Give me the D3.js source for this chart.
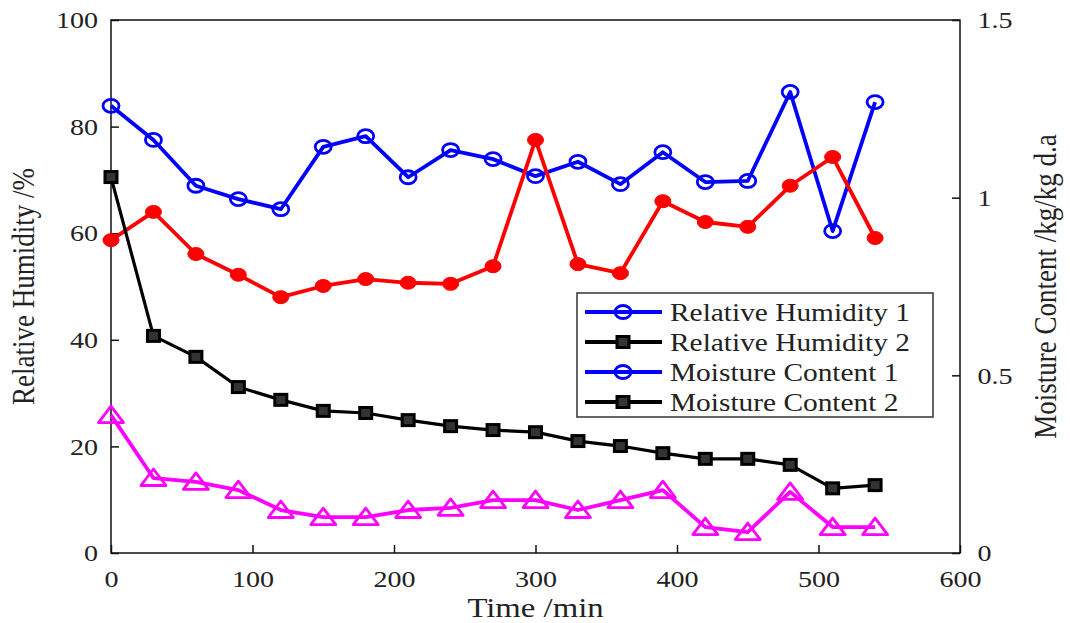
<!DOCTYPE html>
<html>
<head>
  <meta charset="utf-8">
  <title>Relative humidity and moisture content vs time</title>
  <script src="https://cdn.jsdelivr.net/npm/d3@7"></script>
  <style>
    body { margin: 0; background: #fff; }
    text { font-family: "Liberation Serif", "Times New Roman", serif; fill: #222; }
  </style>
</head>
<body>
<div id="chart"></div>
<script>
// time points (min)
var time = [0, 30, 60, 90, 120, 150, 180, 210, 240, 270, 300, 330, 360, 390, 420, 450, 480, 510, 540];

// left axis, %
var rh1 = [83.9, 77.5, 68.9, 66.4, 64.5, 76.2, 78.2, 70.5, 75.6, 73.9, 70.7, 73.4, 69.2, 75.2, 69.6, 69.8, 86.5, 60.4, 84.6];
var rh2 = [58.7, 64.0, 56.1, 52.2, 48.0, 50.1, 51.4, 50.7, 50.5, 53.8, 77.5, 54.2, 52.5, 66.0, 62.1, 61.2, 68.9, 74.3, 59.1];

// right axis, kg/kg d.a
var mc1 = [1.058, 0.611, 0.552, 0.467, 0.431, 0.400, 0.394, 0.374, 0.357, 0.346, 0.340, 0.315, 0.301, 0.281, 0.265, 0.265, 0.248, 0.182, 0.191];
var mc2 = [0.388, 0.211, 0.200, 0.177, 0.121, 0.101, 0.101, 0.121, 0.127, 0.149, 0.149, 0.121, 0.149, 0.177, 0.073, 0.059, 0.172, 0.073, 0.073];

var xTicks = [0, 100, 200, 300, 400, 500, 600];
var yLeftTicks = [0, 20, 40, 60, 80, 100];
var yRightTicks = [0, 0.5, 1, 1.5];

var legendLabels = ["Relative Humidity 1", "Relative Humidity 2", "Moisture Content 1", "Moisture Content 2"];

var W = 1070, H = 623;
var pL = 111, pR = 960, pT = 20, pB = 553;
var SX = 1.17; // the figure is a bit stretched sideways

var svg = d3.select("#chart").append("svg")
  .attr("width", W).attr("height", H);

var x = d3.scaleLinear().domain([0, 600]).range([pL, pR]);
var yL = d3.scaleLinear().domain([0, 100]).range([pB, pT]);
var yR = d3.scaleLinear().domain([0, 1.5]).range([pB, pT]);

// box
svg.append("rect")
  .attr("x", pL).attr("y", pT)
  .attr("width", pR - pL).attr("height", pB - pT)
  .attr("fill", "none").attr("stroke", "#111").attr("stroke-width", 1.5);

function styleAxis(g, size) {
  g.select(".domain").remove();
  g.selectAll("line").attr("stroke", "#111").attr("stroke-width", 1.5);
  g.selectAll("text")
    .attr("font-size", size)
    .attr("font-family", "Liberation Serif, serif")
    .attr("fill", "#222")
    .attr("transform", "scale(" + SX + ",1)");
}

svg.append("g")
  .attr("transform", "translate(" + pL + ",0)")
  .call(d3.axisLeft(yL).tickValues(yLeftTicks).tickSizeInner(-8).tickSizeOuter(0).tickPadding(11))
  .call(styleAxis, 24);

svg.append("g")
  .attr("transform", "translate(" + pR + ",0)")
  .call(d3.axisRight(yR).tickValues(yRightTicks).tickFormat(d3.format("")).tickSizeInner(-8).tickSizeOuter(0).tickPadding(15))
  .call(styleAxis, 24);

svg.append("g")
  .attr("transform", "translate(0," + pB + ")")
  .call(d3.axisBottom(x).tickValues(xTicks).tickSizeInner(-8).tickSizeOuter(0).tickPadding(17))
  .call(styleAxis, 24);

// titles
function label(px, py, str, size, rot) {
  svg.append("text")
    .attr("transform", "translate(" + px + "," + py + ") scale(" + SX + ",1) rotate(" + rot + ")")
    .attr("text-anchor", "middle")
    .attr("font-size", size)
    .text(str);
}
label((pL + pR) / 2, 617, "Time /min", 28, 0);
label(34, (pT + pB) / 2, "Relative Humidity /%", 27, -90);
label(1056, (pT + pB) / 2, "Moisture Content /kg/kg d.a", 27, -90);

// series
var series = [
  { v: rh1, y: yL, color: "#0000ff", w: 3.8, marker: "circle" },
  { v: rh2, y: yL, color: "#ff0000", w: 3.8, marker: "dot" },
  { v: mc1, y: yR, color: "#000000", w: 3.2, marker: "square" },
  { v: mc2, y: yR, color: "#ff00ff", w: 3.8, marker: "triangle" }
];

function drawMarker(g, type, color) {
  if (type === "circle") {
    g.append("ellipse").attr("rx", 8).attr("ry", 6.5)
      .attr("fill", "none").attr("stroke", color).attr("stroke-width", 2.8);
  } else if (type === "dot") {
    g.append("ellipse").attr("rx", 8).attr("ry", 6.5)
      .attr("fill", color).attr("stroke", color).attr("stroke-width", 1);
  } else if (type === "square") {
    g.append("rect").attr("x", -6).attr("y", -5.5).attr("width", 12).attr("height", 11)
      .attr("fill", "#333").attr("stroke", color).attr("stroke-width", 3);
  } else {
    g.append("path").attr("d", "M0,-9L12.5,7.5L-12.5,7.5Z")
      .attr("fill", "none").attr("stroke", color).attr("stroke-width", 2.8)
      .attr("stroke-linejoin", "round");
  }
}

series.forEach(function (s) {
  var line = d3.line()
    .x(function (d, i) { return x(time[i]); })
    .y(function (d) { return s.y(d); });
  svg.append("path")
    .datum(s.v)
    .attr("d", line)
    .attr("fill", "none")
    .attr("stroke", s.color)
    .attr("stroke-width", s.w)
    .attr("stroke-linejoin", "round");
});

series.forEach(function (s) {
  svg.append("g").selectAll("g")
    .data(s.v)
    .enter().append("g")
    .attr("transform", function (d, i) { return "translate(" + x(time[i]) + "," + s.y(d) + ")"; })
    .each(function () { drawMarker(d3.select(this), s.marker, s.color); });
});

// legend (as in the original: only blue circle / black square entries)
var legendStyle = [
  { color: "#0000ff", marker: "circle" },
  { color: "#000000", marker: "square" },
  { color: "#0000ff", marker: "circle" },
  { color: "#000000", marker: "square" }
];
var lg = svg.append("g");
lg.append("rect")
  .attr("x", 577).attr("y", 293).attr("width", 356).attr("height", 124)
  .attr("fill", "#fff").attr("stroke", "#333").attr("stroke-width", 1.5);

var rowY = d3.scalePoint().domain(d3.range(legendLabels.length)).range([312, 402]);

legendLabels.forEach(function (name, i) {
  var yy = rowY(i);
  var st = legendStyle[i];
  lg.append("line")
    .attr("x1", 585).attr("x2", 662).attr("y1", yy).attr("y2", yy)
    .attr("stroke", st.color).attr("stroke-width", 3.8);
  var m = lg.append("g").attr("transform", "translate(623," + yy + ")");
  drawMarker(m, st.marker, st.color);
  lg.append("text")
    .attr("transform", "translate(670," + yy + ") scale(1.13,1)")
    .attr("dy", "0.35em")
    .attr("font-size", 26)
    .text(name);
});
</script>
</body>
</html>
